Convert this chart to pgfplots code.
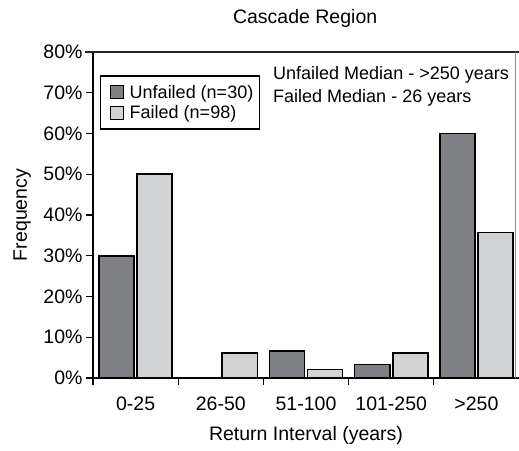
\documentclass[border=0pt]{standalone}
\usepackage{fontspec}
\setmainfont{Liberation Sans}
\usepackage{pgfplots}
\pgfplotsset{compat=1.18}
\definecolor{darkbar}{HTML}{7F8084}
\definecolor{lightbar}{HTML}{D2D3D5}
\newcommand{\fs}{\fontsize{18}{21}\selectfont}
\newcommand{\fl}{\fontsize{19.5}{23}\selectfont}
\begin{document}
\begin{tikzpicture}[x=1pt,y=1pt]
\useasboundingbox (-93,-72) rectangle (426,378);
\begin{axis}[
  at={(0,0)}, anchor=south west,
  scale only axis, width=426pt, height=326pt,
  xmin=-0.5, xmax=4.5, ymin=0, ymax=80,
  axis x line=bottom, axis y line=left,
  axis line style={-, line width=1.5pt},
  ybar=3pt, bar width=35pt,
  xtick={0,1,2,3,4},
  xticklabels={0-25,26-50,51-100,101-250,>250},
  major x tick style={draw=none},
  minor xtick={-0.5,0.5,1.5,2.5,3.5},
  minor tick length=7pt,
  every minor tick/.style={line width=1.3pt, black},
  ytick={0,10,...,80},
  major tick length=7pt,
  every major tick/.append style={line width=1.3pt, black},
  tick align=outside,
  yticklabel={\pgfmathprintnumber{\tick}\%},
  /pgf/number format/assume math mode=true,
  tick label style={font=\fl, black},
  xticklabel style={yshift=-8pt},
  xlabel={Return Interval (years)},
  ylabel={Frequency},
  label style={font=\fl},
  xlabel style={at={(axis description cs:0.5,-0.175)}, anchor=center},
  ylabel style={at={(axis description cs:-0.166,0.5)}, anchor=center},
  legend style={at={(axis cs:-0.418,74.3)}, anchor=north west,
    draw=black, line width=1.5pt, font=\fs, fill=white,
    inner xsep=4pt, inner ysep=7pt, row sep=2pt,
    /tikz/every even column/.append style={column sep=0pt}},
  legend cell align=left,
  legend image code/.code={\path[draw=none,fill=none] (0pt,0pt) -- (23pt,0pt);\draw[#1, line width=1.3pt] (6pt,-6.5pt) rectangle (19pt,6.5pt);},
  clip=false,
]
\addplot[fill=darkbar, draw=black, line width=1.6pt] coordinates {(0,30) (2,6.67) (3,3.33) (4,60)};
\addplot[fill=lightbar, draw=black, line width=1.6pt] coordinates {(0,50) (1,6.12) (2,2.04) (3,6.12) (4,35.71)};
\legend{Unfailed (n=30), Failed (n=98)}
\draw[line width=1.5pt, black!85] (rel axis cs:-0.019,1) -- (rel axis cs:1,1);
\draw[line width=0.6pt, black!45] (rel axis cs:0.9906,0) -- (rel axis cs:0.9906,1);
\node[font=\fl, inner sep=0pt, anchor=center] at (rel axis cs:0.498,1.104) {Cascade Region};
\node[anchor=west, font=\fs, inner sep=0pt] at (axis cs:1.613,74.4) {Unfailed Median - >250 years};
\node[anchor=west, font=\fs, inner sep=0pt] at (axis cs:1.613,68.7) {Failed Median - 26 years};
\end{axis}
\end{tikzpicture}
\end{document}
